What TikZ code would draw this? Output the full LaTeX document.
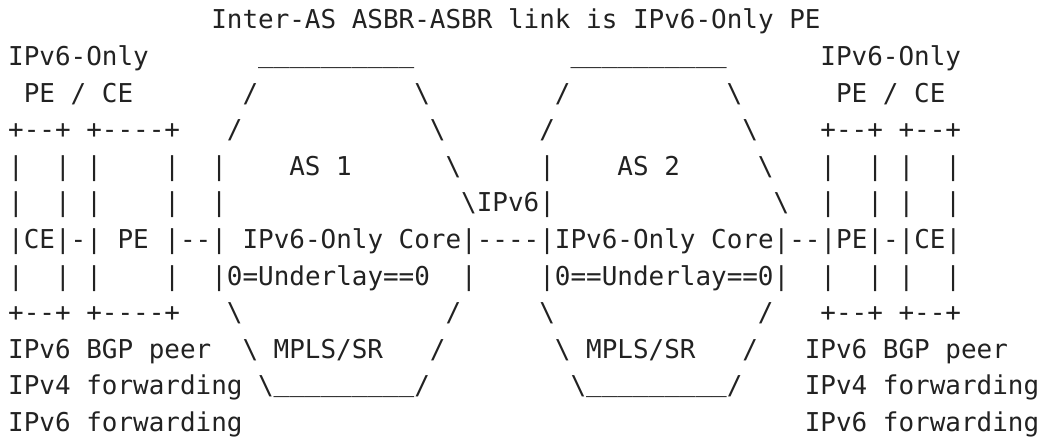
\documentclass[tikz,border=0pt]{standalone}
\usepackage{fontspec}
\setmonofont{DejaVu Sans Mono}
\definecolor{ink}{RGB}{34,34,34}
\tikzset{
  t/.style={anchor=base west, inner sep=0pt, outer sep=0pt, text=ink,
    font=\ttfamily\fontsize{25.95pt}{36.6pt}\selectfont}
}
\newcommand\bs{\textbackslash}
\newcommand\us{\raisebox{3pt}{\_}}
\begin{document}
\begin{tikzpicture}[x=15.62pt, y=-36.6pt]
\fill[white] (-0.525,-0.792) rectangle (66.12,11.23);
\useasboundingbox (-0.525,-0.792) rectangle (66.12,11.23);
% row 0
\node[t] (title) at (13,0) {Inter-AS ASBR-ASBR link is IPv6-Only PE};
% row 1
\node[t] (r1a) at (0,1) {IPv6-Only};
\node[t] (r1b) at (16,1) {\us\us\us\us\us\us\us\us\us\us};
\node[t] (r1c) at (36,1) {\us\us\us\us\us\us\us\us\us\us};
\node[t] (r1d) at (52,1) {IPv6-Only};
% row 2
\node[t] (r2a) at (1,2) {PE / CE};
\node[t] (r2b) at (15,2) {/};
\node[t] (r2c) at (26,2) {\bs};
\node[t] (r2d) at (35,2) {/};
\node[t] (r2e) at (46,2) {\bs};
\node[t] (r2f) at (53,2) {PE / CE};
% row 3
\node[t] (r3a) at (0,3) {+--+ +----+};
\node[t] (r3b) at (14,3) {/};
\node[t] (r3c) at (27,3) {\bs};
\node[t] (r3d) at (34,3) {/};
\node[t] (r3e) at (47,3) {\bs};
\node[t] (r3f) at (52,3) {+--+ +--+};
% row 4
\node[t] (r4a) at (0,4) {|~~|~|~~~~|~~|};
\node[t] (r4b) at (18,4) {AS 1};
\node[t] (r4c) at (28,4) {\bs};
\node[t] (r4d) at (34,4) {|};
\node[t] (r4e) at (39,4) {AS 2};
\node[t] (r4f) at (48,4) {\bs};
\node[t] (r4g) at (52,4) {|~~|~|~~|};
% row 5
\node[t] (r5a) at (0,5) {|~~|~|~~~~|~~|};
\node[t] (r5b) at (29,5) {\bs IPv6|};
\node[t] (r5c) at (49,5) {\bs};
\node[t] (r5d) at (52,5) {|~~|~|~~|};
% row 6
\node[t] (r6a) at (0,6) {|CE|-| PE |--| IPv6-Only Core|----|IPv6-Only Core|--|PE|-|CE|};
% row 7
\node[t] (r7a) at (0,7) {|~~|~|~~~~|~~|0=Underlay==0~~|};
\node[t] (r7b) at (34,7) {|0==Underlay==0|};
\node[t] (r7c) at (52,7) {|~~|~|~~|};
% row 8
\node[t] (r8a) at (0,8) {+--+ +----+};
\node[t] (r8b) at (14,8) {\bs};
\node[t] (r8c) at (28,8) {/};
\node[t] (r8d) at (34,8) {\bs};
\node[t] (r8e) at (48,8) {/};
\node[t] (r8f) at (52,8) {+--+ +--+};
% row 9
\node[t] (r9a) at (0,9) {IPv6 BGP peer};
\node[t] (r9b) at (15,9) {\bs{} MPLS/SR};
\node[t] (r9c) at (27,9) {/};
\node[t] (r9d) at (35,9) {\bs{} MPLS/SR};
\node[t] (r9e) at (47,9) {/};
\node[t] (r9f) at (51,9) {IPv6 BGP peer};
% row 10
\node[t] (r10a) at (0,10) {IPv4 forwarding};
\node[t] (r10b) at (16,10) {\bs\us\us\us\us\us\us\us\us\us/};
\node[t] (r10c) at (36,10) {\bs\us\us\us\us\us\us\us\us\us/};
\node[t] (r10d) at (51,10) {IPv4 forwarding};
% row 11
\node[t] (r11a) at (0,11) {IPv6 forwarding};
\node[t] (r11b) at (51,11) {IPv6 forwarding};
\end{tikzpicture}
\end{document}
